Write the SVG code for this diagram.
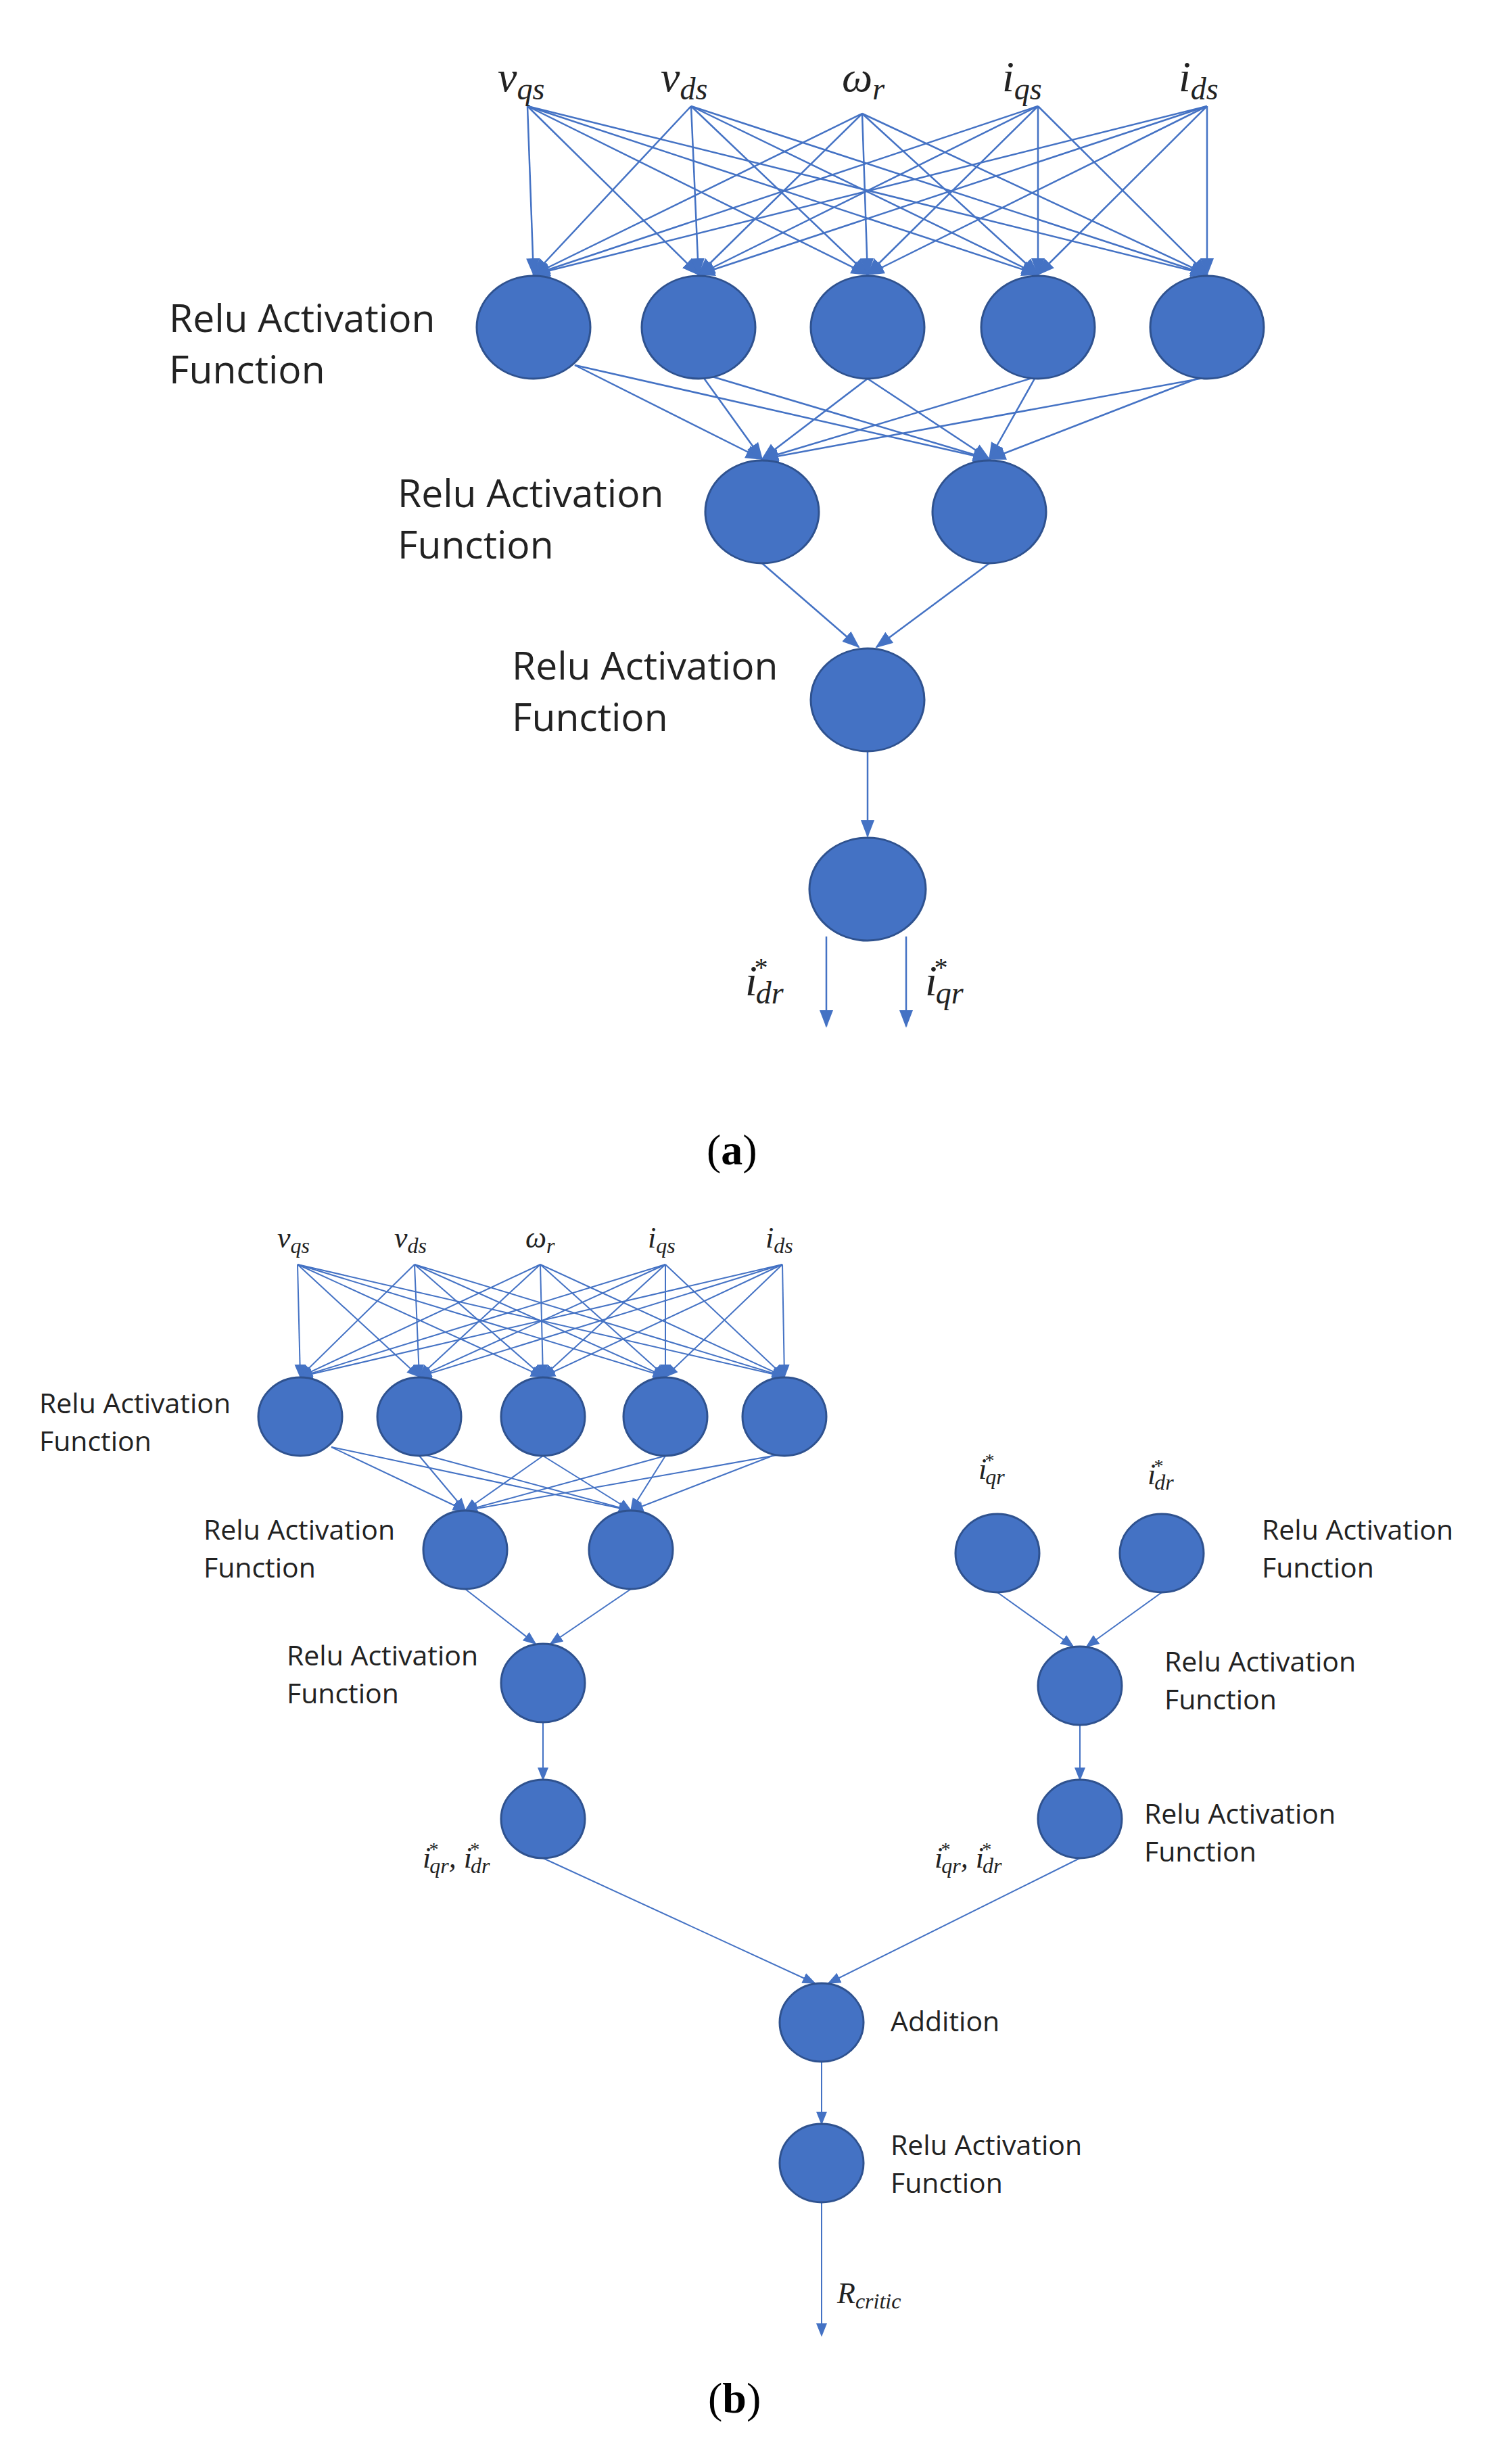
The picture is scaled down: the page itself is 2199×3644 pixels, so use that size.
<svg xmlns="http://www.w3.org/2000/svg" width="2199" height="3644" viewBox="0 0 2199 3644">
<style>
.n{fill:#4472C4;stroke:#2F528F;stroke-width:3}
.e line{stroke:#4472C4;stroke-width:2.5;marker-end:url(#ah)}
.e .b line{stroke-width:2;marker-end:url(#ah3)}
.lb{font-family:"Open Sans","Noto Sans",sans-serif;fill:#222}
.la{font-size:57px}.lbb{font-size:41px}
.m{font-family:"Liberation Serif",serif;font-style:italic;fill:#222}
.cap{font-family:"Liberation Serif",serif;font-size:64px;fill:#000}
</style>
<defs>
<marker id="ah" markerWidth="26" markerHeight="24" refX="24" refY="12" orient="auto" markerUnits="userSpaceOnUse"><path d="M0,2 L26,12 L0,22z" fill="#4472C4"/></marker>
<marker id="ah3" markerWidth="20" markerHeight="18" refX="18" refY="9" orient="auto" markerUnits="userSpaceOnUse"><path d="M0,1 L20,9 L0,17z" fill="#4472C4"/></marker>
</defs>
<rect width="2199" height="3644" fill="#fff"/>
<g class="e" id="edges">
<g class="a">
<line x1="780" y1="157" x2="789" y2="406"/><line x1="780" y1="157" x2="1033" y2="406"/><line x1="780" y1="157" x2="1283" y2="406"/><line x1="780" y1="157" x2="1535" y2="406"/><line x1="780" y1="157" x2="1785" y2="406"/>
<line x1="1022" y1="157" x2="789" y2="406"/><line x1="1022" y1="157" x2="1033" y2="406"/><line x1="1022" y1="157" x2="1283" y2="406"/><line x1="1022" y1="157" x2="1535" y2="406"/><line x1="1022" y1="157" x2="1785" y2="406"/>
<line x1="1275" y1="168" x2="789" y2="406"/><line x1="1275" y1="168" x2="1033" y2="406"/><line x1="1275" y1="168" x2="1283" y2="406"/><line x1="1275" y1="168" x2="1535" y2="406"/><line x1="1275" y1="168" x2="1785" y2="406"/>
<line x1="1535" y1="157" x2="789" y2="406"/><line x1="1535" y1="157" x2="1033" y2="406"/><line x1="1535" y1="157" x2="1283" y2="406"/><line x1="1535" y1="157" x2="1535" y2="406"/><line x1="1535" y1="157" x2="1785" y2="406"/>
<line x1="1785" y1="157" x2="789" y2="406"/><line x1="1785" y1="157" x2="1033" y2="406"/><line x1="1785" y1="157" x2="1283" y2="406"/><line x1="1785" y1="157" x2="1535" y2="406"/><line x1="1785" y1="157" x2="1785" y2="406"/>
<line x1="850" y1="540" x2="1127" y2="679"/><line x1="850" y1="540" x2="1463" y2="679"/>
<line x1="1040" y1="558" x2="1127" y2="679"/><line x1="1050" y1="556" x2="1463" y2="679"/>
<line x1="1283" y1="560" x2="1127" y2="679"/><line x1="1283" y1="560" x2="1463" y2="679"/>
<line x1="1530" y1="558" x2="1127" y2="679"/><line x1="1530" y1="560" x2="1463" y2="679"/>
<line x1="1785" y1="558" x2="1127" y2="679"/><line x1="1775" y1="558" x2="1463" y2="679"/>
<line x1="1127" y1="833" x2="1270" y2="957"/><line x1="1463" y1="833" x2="1296" y2="957"/>
<line x1="1283" y1="1111" x2="1283" y2="1237"/>
<line x1="1222" y1="1385" x2="1222" y2="1518"/><line x1="1340" y1="1385" x2="1340" y2="1518"/>
</g>
<g class="b">
<line x1="440" y1="1870" x2="444" y2="2036"/><line x1="440" y1="1870" x2="620" y2="2036"/><line x1="440" y1="1870" x2="803" y2="2036"/><line x1="440" y1="1870" x2="984" y2="2036"/><line x1="440" y1="1870" x2="1160" y2="2036"/>
<line x1="613" y1="1870" x2="444" y2="2036"/><line x1="613" y1="1870" x2="620" y2="2036"/><line x1="613" y1="1870" x2="803" y2="2036"/><line x1="613" y1="1870" x2="984" y2="2036"/><line x1="613" y1="1870" x2="1160" y2="2036"/>
<line x1="799" y1="1870" x2="444" y2="2036"/><line x1="799" y1="1870" x2="620" y2="2036"/><line x1="799" y1="1870" x2="803" y2="2036"/><line x1="799" y1="1870" x2="984" y2="2036"/><line x1="799" y1="1870" x2="1160" y2="2036"/>
<line x1="984" y1="1870" x2="444" y2="2036"/><line x1="984" y1="1870" x2="620" y2="2036"/><line x1="984" y1="1870" x2="803" y2="2036"/><line x1="984" y1="1870" x2="984" y2="2036"/><line x1="984" y1="1870" x2="1160" y2="2036"/>
<line x1="1157" y1="1870" x2="444" y2="2036"/><line x1="1157" y1="1870" x2="620" y2="2036"/><line x1="1157" y1="1870" x2="803" y2="2036"/><line x1="1157" y1="1870" x2="984" y2="2036"/><line x1="1157" y1="1870" x2="1160" y2="2036"/>
<line x1="490" y1="2140" x2="688" y2="2234"/><line x1="490" y1="2140" x2="933" y2="2234"/>
<line x1="620" y1="2153" x2="688" y2="2234"/><line x1="630" y1="2152" x2="933" y2="2234"/>
<line x1="803" y1="2153" x2="688" y2="2234"/><line x1="803" y1="2153" x2="933" y2="2234"/>
<line x1="984" y1="2153" x2="688" y2="2234"/><line x1="984" y1="2153" x2="933" y2="2234"/>
<line x1="1160" y1="2150" x2="688" y2="2234"/><line x1="1150" y1="2150" x2="933" y2="2234"/>
<line x1="688" y1="2350" x2="792" y2="2431"/><line x1="933" y1="2350" x2="814" y2="2431"/>
<line x1="803" y1="2547" x2="803" y2="2632"/>
<line x1="1475" y1="2355" x2="1587" y2="2435"/><line x1="1718" y1="2355" x2="1607" y2="2435"/>
<line x1="1597" y1="2551" x2="1597" y2="2632"/>
<line x1="803" y1="2748" x2="1205" y2="2933"/><line x1="1597" y1="2748" x2="1225" y2="2933"/>
<line x1="1215" y1="3049" x2="1215" y2="3141"/>
<line x1="1215" y1="3257" x2="1215" y2="3454"/>
</g>
</g>
<g id="a-layer1"><ellipse class="n" cx="789" cy="484" rx="84" ry="76"/><ellipse class="n" cx="1033" cy="484" rx="84" ry="76"/><ellipse class="n" cx="1283" cy="484" rx="84" ry="76"/><ellipse class="n" cx="1535" cy="484" rx="84" ry="76"/><ellipse class="n" cx="1785" cy="484" rx="84" ry="76"/></g>
<g id="a-layer2"><ellipse class="n" cx="1127" cy="757" rx="84" ry="76"/><ellipse class="n" cx="1463" cy="757" rx="84" ry="76"/></g>
<g id="a-layer3"><ellipse class="n" cx="1283" cy="1035" rx="84" ry="76"/></g>
<g id="a-out"><ellipse class="n" cx="1283" cy="1315" rx="86" ry="76"/></g>
<g id="a-labels">
<text class="m" font-size="64" x="736" y="135">v<tspan font-size="46" dy="12">qs</tspan></text>
<text class="m" font-size="64" x="977" y="135">v<tspan font-size="46" dy="12">ds</tspan></text>
<text class="m" font-size="64" x="1245" y="135">ω<tspan font-size="46" dy="12">r</tspan></text>
<text class="m" font-size="64" x="1482" y="135">i<tspan font-size="46" dy="12">qs</tspan></text>
<text class="m" font-size="64" x="1743" y="135">i<tspan font-size="46" dy="12">ds</tspan></text>
<text class="m" font-size="64" x="1102" y="1472">i<tspan font-size="40" dx="-6" dy="-28">*</tspan><tspan font-size="46" dx="-16" dy="40">dr</tspan></text>
<text class="m" font-size="64" x="1368" y="1472">i<tspan font-size="40" dx="-6" dy="-28">*</tspan><tspan font-size="46" dx="-16" dy="40">qr</tspan></text>
<text class="lb la" x="250" y="491">Relu Activation</text><text class="lb la" x="250" y="567">Function</text>
<text class="lb la" x="588" y="750">Relu Activation</text><text class="lb la" x="588" y="826">Function</text>
<text class="lb la" x="757" y="1005">Relu Activation</text><text class="lb la" x="757" y="1081">Function</text>
<text class="cap" x="1045" y="1722">(<tspan font-weight="bold">a</tspan>)</text>
</g>
<g id="b-layer1"><ellipse class="n" cx="444" cy="2095" rx="62" ry="58"/><ellipse class="n" cx="620" cy="2095" rx="62" ry="58"/><ellipse class="n" cx="803" cy="2095" rx="62" ry="58"/><ellipse class="n" cx="984" cy="2095" rx="62" ry="58"/><ellipse class="n" cx="1160" cy="2095" rx="62" ry="58"/></g>
<g id="b-layer2"><ellipse class="n" cx="688" cy="2292" rx="62" ry="58"/><ellipse class="n" cx="933" cy="2292" rx="62" ry="58"/></g>
<g id="b-layer3"><ellipse class="n" cx="803" cy="2489" rx="62" ry="58"/></g>
<g id="b-layer4"><ellipse class="n" cx="803" cy="2690" rx="62" ry="58"/></g>
<g id="b-right1"><ellipse class="n" cx="1475" cy="2297" rx="62" ry="58"/><ellipse class="n" cx="1718" cy="2297" rx="62" ry="58"/></g>
<g id="b-right2"><ellipse class="n" cx="1597" cy="2493" rx="62" ry="58"/></g>
<g id="b-right3"><ellipse class="n" cx="1597" cy="2690" rx="62" ry="58"/></g>
<g id="b-add"><ellipse class="n" cx="1215" cy="2991" rx="62" ry="58"/></g>
<g id="b-last"><ellipse class="n" cx="1215" cy="3199" rx="62" ry="58"/></g>
<g id="b-labels">
<text class="m" font-size="44" x="410" y="1845">v<tspan font-size="32" dy="8">qs</tspan></text>
<text class="m" font-size="44" x="583" y="1845">v<tspan font-size="32" dy="8">ds</tspan></text>
<text class="m" font-size="44" x="777" y="1845">ω<tspan font-size="32" dy="8">r</tspan></text>
<text class="m" font-size="44" x="958" y="1845">i<tspan font-size="32" dy="8">qs</tspan></text>
<text class="m" font-size="44" x="1132" y="1845">i<tspan font-size="32" dy="8">ds</tspan></text>
<text class="m" font-size="44" x="1447" y="2187">i<tspan font-size="28" dx="-4" dy="-18">*</tspan><tspan font-size="32" dx="-12" dy="26">qr</tspan></text>
<text class="m" font-size="44" x="1697" y="2195">i<tspan font-size="28" dx="-4" dy="-18">*</tspan><tspan font-size="32" dx="-12" dy="26">dr</tspan></text>
<text class="m" font-size="44" x="625" y="2762">i<tspan font-size="28" dx="-4" dy="-18">*</tspan><tspan font-size="32" dx="-12" dy="26">qr</tspan><tspan dy="-8">, i</tspan><tspan font-size="28" dx="-4" dy="-18">*</tspan><tspan font-size="32" dx="-12" dy="26">dr</tspan></text>
<text class="m" font-size="44" x="1382" y="2762">i<tspan font-size="28" dx="-4" dy="-18">*</tspan><tspan font-size="32" dx="-12" dy="26">qr</tspan><tspan dy="-8">, i</tspan><tspan font-size="28" dx="-4" dy="-18">*</tspan><tspan font-size="32" dx="-12" dy="26">dr</tspan></text>
<text class="m" font-size="44" x="1238" y="3406">R<tspan font-size="32" dy="8">critic</tspan></text>
<text class="lb lbb" x="58" y="2090">Relu Activation</text><text class="lb lbb" x="58" y="2146">Function</text>
<text class="lb lbb" x="301" y="2277">Relu Activation</text><text class="lb lbb" x="301" y="2333">Function</text>
<text class="lb lbb" x="424" y="2463">Relu Activation</text><text class="lb lbb" x="424" y="2519">Function</text>
<text class="lb lbb" x="1866" y="2277">Relu Activation</text><text class="lb lbb" x="1866" y="2333">Function</text>
<text class="lb lbb" x="1722" y="2472">Relu Activation</text><text class="lb lbb" x="1722" y="2528">Function</text>
<text class="lb lbb" x="1692" y="2697">Relu Activation</text><text class="lb lbb" x="1692" y="2753">Function</text>
<text class="lb lbb" x="1317" y="3004">Addition</text>
<text class="lb lbb" x="1317" y="3187">Relu Activation</text><text class="lb lbb" x="1317" y="3243">Function</text>
<text class="cap" x="1047" y="3568">(<tspan font-weight="bold">b</tspan>)</text>
</g>
</svg>
